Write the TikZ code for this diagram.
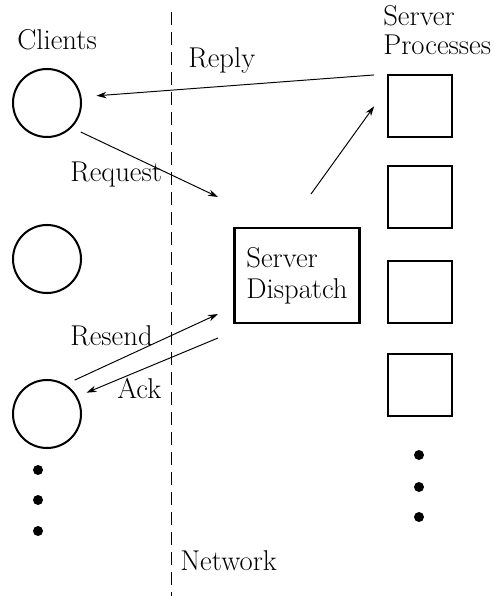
\documentclass[tikz,border=0pt]{standalone}
\usetikzlibrary{arrows.meta}

\begin{document}
\begin{tikzpicture}[x=0.2mm,y=-0.2mm]
      %styles for the parts of the picture
      \tikzset{
      client/.style={circle, draw, line width=1.15pt, minimum size=13.6mm, inner sep=0pt},
      proc/.style={rectangle, draw, line width=1.15pt, minimum width=12.8mm, minimum height=12.4mm, inner sep=0pt},
      msg/.style={-{Stealth[length=2mm,width=1.3mm]}, line width=0.55pt},
      lbl/.style={font=\fontsize{16.3}{18}\selectfont, inner sep=0pt},
      }
      \useasboundingbox (0,0) rectangle (494,596);

      %network boundary
      \draw[line width=0.55pt, dash pattern=on 2.6mm off 1.4mm] (171,12) -- (171,596);
      \node[lbl, anchor=base west] (net) at (180,570) {Network};

      %clients
      \node[lbl, anchor=base west] (clients) at (17,50) {Clients};
      \node[client] (cl1) at (47,103) {};
      \node[client] (cl2) at (47,259) {};
      \node[client] (cl3) at (47,414) {};
      \fill (38,470) circle (5) (38,500) circle (5) (38,531) circle (5);

      %server processes
      \node[lbl, anchor=base west] (procs) at (383,26) {Server};
      \node[lbl, anchor=base west] (procs') at (383,55) {Processes};
      \node[proc] (proc1) at (420,106) {};
      \node[proc] (proc2) at (420,197) {};
      \node[proc] (proc3) at (420,292) {};
      \node[proc] (proc4) at (420,385) {};
      \fill (419,455) circle (5) (419,487) circle (5) (419,517) circle (5);

      %dispatcher
      \node[draw, line width=1.15pt, minimum width=25mm, minimum height=19mm, align=left,
            font=\fontsize{16.3}{17.6}\selectfont] (disp) at (297,275.5) {Server\\Dispatch};

      %free ends near the dispatcher
      \coordinate (reqtip) at (218,197);
      \coordinate (uptail) at (311,194);
      \coordinate (rstip) at (218,314);
      \coordinate (acktail) at (218,338);

      %messages
      \draw[msg, shorten <=2.6mm, shorten >=3mm] (proc1.north west) -- (cl1.10);
      \node[lbl, anchor=base west] (reply) at (188,68) {Reply};
      \draw[msg, shorten <=2mm] (cl1.-45) -- (reqtip);
      \node[lbl, anchor=base west] (request) at (70,182) {Request};
      \draw[msg, shorten >=4.4mm] (uptail) -- (proc1.152);
      \draw[msg, shorten <=2mm] (cl3.58) -- (rstip);
      \node[lbl, anchor=base west] (resend) at (70,345) {Resend};
      \draw[msg, shorten >=2mm] (acktail) -- (cl3.30);
      \node[lbl, anchor=base west] (ack) at (117,398) {Ack};
\end{tikzpicture}
\end{document}
